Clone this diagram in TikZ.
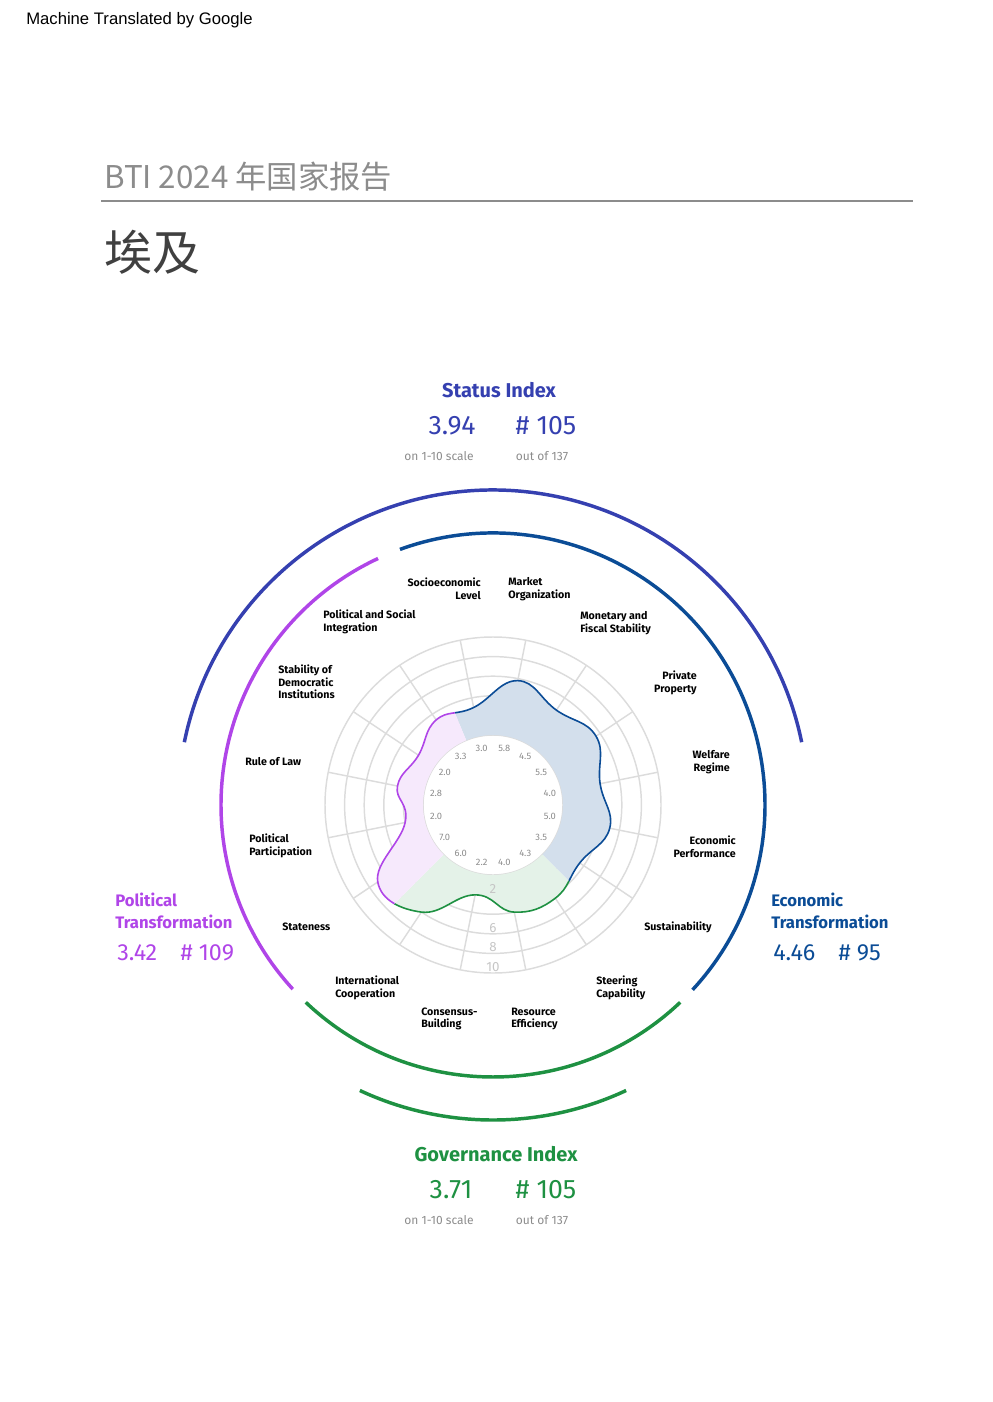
\documentclass[tikz,border=0pt]{standalone}
\usepackage{fontspec}
\setmainfont{Fira Sans}
\newfontfamily\arialfont{Liberation Sans}
\newfontfamily\cjk{Noto Sans CJK SC}
\definecolor{econblue}{HTML}{0B4C96}
\definecolor{statusblue}{HTML}{3540B0}
\definecolor{polpurple}{HTML}{B045E8}
\definecolor{govgreen}{HTML}{1E9142}
\definecolor{ringgrey}{HTML}{DCDCDC}
\definecolor{txtgrey}{HTML}{8C8C8C}
\tikzset{
  crit/.style={font=\fontsize{8}{9.4}\selectfont\bfseries, inner sep=0pt, align=left, anchor=west},
  critr/.style={crit, align=right, anchor=east},
  val/.style={font=\fontsize{7}{8}\selectfont, text=txtgrey, inner sep=0pt},
  big/.style={font=\fontsize{20}{22}\selectfont, inner sep=0pt},
  head/.style={font=\fontsize{15}{17}\selectfont\bfseries, inner sep=0pt},
  sub/.style={font=\fontsize{9}{10}\selectfont, text=txtgrey, inner sep=0pt},
  band/.style={line width=2.6pt}
}
\begin{document}
\begin{tikzpicture}[x=0.75pt, y=-0.75pt]
  \useasboundingbox (0,0) rectangle (992,1402);

  % header
  \node (mt) [anchor=west, inner sep=0pt, font=\arialfont\fontsize{12.5}{14}\selectfont] at (26,20) {Machine Translated by Google};
  \node (title) [anchor=west, inner sep=0pt, text=txtgrey, font=\cjk\fontsize{23.5}{26}\selectfont] at (104,177) {BTI 2024 年国家报告};
  \coordinate (ruleL) at (101,201);
  \coordinate (ruleR) at (913,201);
  \draw[txtgrey, line width=0.9pt] (ruleL) -- (ruleR);
  \node (country) [anchor=west, inner sep=0pt, text=black!75, font=\cjk\fontsize{36}{40}\selectfont] at (104,252) {埃及};

  % chart
  \begin{scope}[shift={(493,805)}, x=0.75pt, y=0.75pt]
    % rings and spokes
    \foreach \v in {0,2,4,6,8,10}
      \draw[ringgrey, line width=1.1pt] (0,0) circle ({70+9.8*\v});
    \foreach \a in {11.25,33.75,...,350}
      \draw[ringgrey, line width=1.1pt] (\a:70) -- (\a:168);

    \def\profile{plot[smooth cycle, tension=0.75] coordinates {
      (101.25:99.4) (78.75:126.8) (56.25:114.1) (33.75:123.9)
      (11.25:109.2) (-11.25:119) (-33.75:104.3) (-56.25:112.1)
      (-78.75:109.2) (-101.25:91.6) (-123.75:128.8) (-146.25:138.6)
      (-168.75:89.6) (168.75:97.4) (146.25:89.6) (123.75:102.3)}}

    % economic
    \begin{scope}
      \clip (0,0) -- (112.5:220) arc (112.5:-45:220) -- cycle;
      \fill[econblue!18, even odd rule] \profile (0,0) circle (70);
      \draw[econblue, line width=1.2pt] \profile;
    \end{scope}
    % governance
    \begin{scope}
      \clip (0,0) -- (-45:220) arc (-45:-135:220) -- cycle;
      \fill[govgreen!12, even odd rule] \profile (0,0) circle (70);
      \draw[govgreen, line width=1.2pt] \profile;
    \end{scope}
    % political
    \begin{scope}
      \clip (0,0) -- (-135:220) arc (-135:-247.5:220) -- cycle;
      \fill[polpurple!12, even odd rule] \profile (0,0) circle (70);
      \draw[polpurple, line width=1.2pt] \profile;
    \end{scope}

    % values
    \foreach \a/\t in {101.25/3.0, 78.75/5.8, 56.25/4.5, 33.75/5.5, 11.25/4.0,
      -11.25/5.0, -33.75/3.5, -56.25/4.3, -78.75/4.0, -101.25/2.2,
      -123.75/6.0, -146.25/7.0, -168.75/2.0, 168.75/2.8, 146.25/2.0, 123.75/3.3}
      \node[val] at (\a:58) {\t};
    \foreach \v in {2,6,8,10}
      \node[val, font=\fontsize{10}{11}\selectfont, text=ringgrey!90!black] at (-90:{70+9.8*\v-6}) {\v};

    % index arcs
    \draw[band, statusblue] (168.5:315) arc (168.5:11.5:315);
    \draw[band, polpurple] (115:272) arc (115:222.6:272);
    \draw[band, econblue] (110:272) arc (110:-42.8:272);
    \draw[band, govgreen] (226.5:272) arc (226.5:313.5:272);
    \draw[band, govgreen] (245:315) arc (245:295:315);
  \end{scope}

  % criteria labels
  \node (socio) [critr] at (481,589) {Socioeconomic\\Level};
  \node (market) [crit] at (508,589) {Market\\Organization};
  \node (integ) [crit] at (323,622) {Political and Social\\Integration};
  \node (monet) [crit] at (580,623) {Monetary and\\Fiscal Stability};
  \node (stab) [crit] at (278,682) {Stability of\\Democratic\\Institutions};
  \node (priv) [critr] at (697,683) {Private\\Property};
  \node (rule) [crit] at (245,762) {Rule of Law};
  \node (welf) [critr] at (730,762) {Welfare\\Regime};
  \node (partic) [crit] at (249,846) {Political\\Participation};
  \node (perf) [critr] at (736,847) {Economic\\Performance};
  \node (state) [crit] at (282,927) {Stateness};
  \node (sust) [crit] at (644,927) {Sustainability};
  \node (intl) [crit] at (335,988) {International\\Cooperation};
  \node (steer) [crit] at (596,988) {Steering\\Capability};
  \node (cons) [crit] at (421,1019) {Consensus-\\Building};
  \node (res) [crit] at (511,1019) {Resource\\Efficiency};

  % status index
  \node (status) [head, text=statusblue] at (499,390) {Status Index};
  \node (sscore) [big, text=statusblue] at (452,426) {3.94};
  \node (srank) [big, text=statusblue] at (546,426) {\# 105};
  \node (sscale) [sub] at (439,456) {on 1-10 scale};
  \node (sof) [sub] at (542,456) {out of 137};

  % political transformation
  \node (pol) [head, anchor=west, align=left, text=polpurple, font=\fontsize{12.5}{16}\selectfont\bfseries] at (115,911) {Political\\Transformation};
  \node (pscore) [big, anchor=west, text=polpurple, font=\fontsize{17.5}{19}\selectfont] at (117,953) {3.42\quad\# 109};

  % economic transformation
  \node (eco) [head, anchor=west, align=left, text=econblue, font=\fontsize{12.5}{16}\selectfont\bfseries] at (771,911) {Economic\\Transformation};
  \node (escore) [big, anchor=west, text=econblue, font=\fontsize{17.5}{19}\selectfont] at (773,953) {4.46\quad\# 95};

  % governance index
  \node (gov) [head, text=govgreen] at (496,1154) {Governance Index};
  \node (gscore) [big, text=govgreen] at (451,1190) {3.71};
  \node (grank) [big, text=govgreen] at (546,1190) {\# 105};
  \node (gscale) [sub] at (439,1220) {on 1-10 scale};
  \node (gof) [sub] at (542,1220) {out of 137};
\end{tikzpicture}
\end{document}
